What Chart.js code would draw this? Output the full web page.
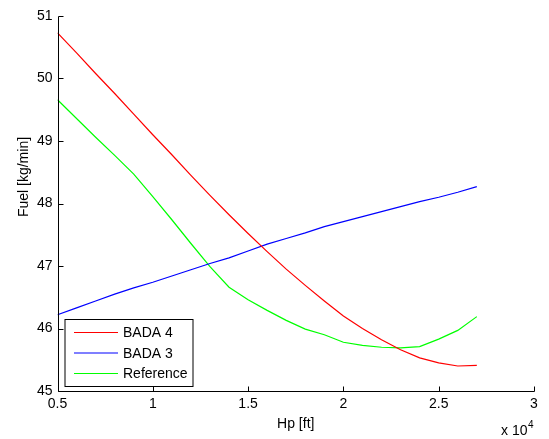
<!DOCTYPE html>
<html>
<head>
<meta charset="utf-8">
<title>Fuel flow vs pressure altitude</title>
<script src="https://cdn.jsdelivr.net/npm/chart.js@4.4.1/dist/chart.umd.min.js"></script>
<style>
  html, body { margin: 0; padding: 0; background: #fff; }
  #wrap { position: relative; width: 549px; height: 439px; }
</style>
</head>
<body>
<div id="wrap"><canvas id="fuel-chart"></canvas></div>
<script>
// pressure altitude in ft
var altitudes = [5000, 6000, 7000, 8000, 9000, 10000, 11000, 12000, 13000, 14000, 15000, 16000,
                 17000, 18000, 19000, 20000, 21000, 22000, 23000, 24000, 25000, 26000, 27000];
// fuel flow, kg/min
var bada4 = [50.73, 50.41, 50.08, 49.76, 49.43, 49.10, 48.78, 48.45, 48.13, 47.82, 47.52, 47.23,
             46.95, 46.69, 46.44, 46.20, 46.00, 45.82, 45.66, 45.53, 45.45, 45.40, 45.41];
var bada3 = [46.22, 46.33, 46.44, 46.55, 46.65, 46.74, 46.84, 46.94, 47.04, 47.13, 47.24, 47.35,
             47.44, 47.53, 47.63, 47.71, 47.79, 47.87, 47.95, 48.03, 48.10, 48.18, 48.27];
var reference = [49.66, 49.36, 49.06, 48.77, 48.47, 48.11, 47.74, 47.36, 46.99, 46.66, 46.46, 46.29,
                 46.13, 45.99, 45.90, 45.78, 45.73, 45.70, 45.69, 45.71, 45.83, 45.97, 46.19];

var xTicks = [5000, 10000, 15000, 20000, 25000, 30000];
var yTicks = [45, 46, 47, 48, 49, 50, 51];

var FONT = "'Liberation Sans', Arial, sans-serif";

function toPoints(ys) {
  return altitudes.map(function (x, i) { return { x: x, y: ys[i] }; });
}

// axes with inward ticks, axis titles, exponent label and boxed legend
var matlabAxes = {
  id: 'matlabAxes',
  afterDraw: function (chart) {
    var ctx = chart.ctx;
    var area = chart.chartArea;
    var xs = chart.scales.x, ys = chart.scales.y;
    var L = Math.round(area.left) + 0.5, B = Math.round(area.bottom) + 0.5;

    ctx.save();
    ctx.strokeStyle = '#000';
    ctx.lineWidth = 1;
    ctx.beginPath();
    ctx.moveTo(L, Math.round(area.top) + 0.5);
    ctx.lineTo(L, B);
    ctx.lineTo(Math.round(area.right) + 0.5, B);
    xTicks.forEach(function (v) {
      var px = Math.round(xs.getPixelForValue(v)) + 0.5;
      ctx.moveTo(px, B);
      ctx.lineTo(px, B - 5);
    });
    yTicks.forEach(function (v) {
      var py = Math.round(ys.getPixelForValue(v)) + 0.5;
      ctx.moveTo(L, py);
      ctx.lineTo(L + 5, py);
    });
    ctx.stroke();

    ctx.fillStyle = '#000';
    ctx.font = '14px ' + FONT;
    ctx.textAlign = 'center';
    ctx.textBaseline = 'alphabetic';
    ctx.fillText('Hp [ft]', (area.left + area.right) / 2 + 0, 428);

    ctx.save();
    ctx.translate(28, 177);
    ctx.rotate(-Math.PI / 2);
    ctx.fillText('Fuel [kg/min]', 0, 0);
    ctx.restore();

    ctx.textAlign = 'left';
    ctx.fillText('x 10', 501, 435);
    ctx.font = '10px ' + FONT;
    ctx.fillText('4', 528, 428);

    // legend
    var lx = area.left + 7.5, ly = 319.5, lw = 128, lh = 67;
    ctx.fillStyle = '#fff';
    ctx.fillRect(lx, ly, lw, lh);
    ctx.strokeStyle = '#000';
    ctx.strokeRect(lx, ly, lw, lh);
    ctx.font = '14px ' + FONT;
    ctx.textBaseline = 'middle';
    chart.data.datasets.forEach(function (ds, i) {
      var rowY = ly + 13 + i * 20.5;
      ctx.strokeStyle = ds.borderColor;
      ctx.lineWidth = 1.2;
      ctx.beginPath();
      ctx.moveTo(lx + 9, rowY);
      ctx.lineTo(lx + 53, rowY);
      ctx.stroke();
      ctx.fillStyle = '#000';
      ctx.fillText(ds.label, lx + 58, rowY + 1);
    });
    ctx.restore();
  }
};

var ctx = document.getElementById('fuel-chart');
var fuelChart = new Chart(ctx, {
  type: 'line',
  data: {
    datasets: [{
      label: 'BADA 4',
      data: toPoints(bada4),
      borderColor: '#ff0000',
      borderWidth: 1.2,
      pointRadius: 0,
      tension: 0,
      fill: false
    }, {
      label: 'BADA 3',
      data: toPoints(bada3),
      borderColor: '#0000ff',
      borderWidth: 1.2,
      pointRadius: 0,
      tension: 0,
      fill: false
    }, {
      label: 'Reference',
      data: toPoints(reference),
      borderColor: '#00ff00',
      borderWidth: 1.2,
      pointRadius: 0,
      tension: 0,
      fill: false
    }]
  },
  options: {
    responsive: true,
    maintainAspectRatio: false,
    animation: false,
    devicePixelRatio: 1,
    layout: { padding: { left: 0, top: 16, right: 15, bottom: 0 } },
    plugins: {
      legend: { display: false },
      tooltip: { enabled: false }
    },
    scales: {
      x: {
        type: 'linear',
        min: 5000,
        max: 30000,
        grid: { display: false, drawTicks: false },
        border: { display: false },
        afterFit: function (scale) { scale.height = 48; },
        afterBuildTicks: function (scale) {
          scale.ticks = xTicks.map(function (v) { return { value: v }; });
        },
        ticks: {
          padding: 5,
          color: '#000',
          maxRotation: 0,
          font: { family: FONT, size: 14 },
          callback: function (v) { return String(v / 10000); }
        }
      },
      y: {
        min: 45,
        max: 51,
        grid: { display: false, drawTicks: false },
        border: { display: false },
        afterFit: function (scale) { scale.width = 57.5; },
        afterBuildTicks: function (scale) {
          scale.ticks = yTicks.map(function (v) { return { value: v }; });
        },
        ticks: {
          padding: 5,
          color: '#000',
          font: { family: FONT, size: 14 }
        }
      }
    }
  },
  plugins: [matlabAxes]
});
</script>
</body>
</html>
